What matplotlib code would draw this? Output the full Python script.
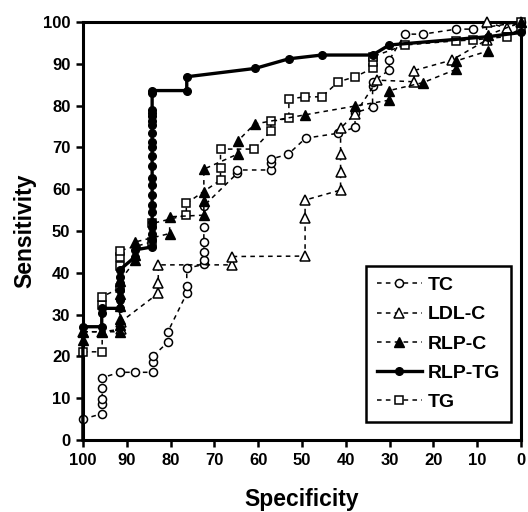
import matplotlib
matplotlib.use('Agg')
from matplotlib import pyplot as plt

plt.rcParams['font.family'] = ['Liberation Sans', 'DejaVu Sans']
plt.rcParams['font.weight'] = 'bold'

# specificity (x) and sensitivity (y)
tc_x = [100, 95.6, 95.6, 95.6, 95.6, 95.6, 91.6, 88, 84, 84, 84, 80.6, 80.6, 76.3, 76.3, 76.3,
        72.4, 72.4, 72.4, 72.4, 72.4, 72.4, 64.8, 64.8, 57.1, 57.1, 57.1, 53.1, 49.2, 41.7,
        37.9, 37.9, 33.9, 33.9, 33.9, 30.1, 30.1, 26.5, 22.4, 14.8, 10.9, 0]
tc_y = [5, 6.3, 8.6, 9.8, 12.4, 14.9, 16.2, 16.2, 16.2, 18.7, 20.1, 23.4, 25.9, 35.1, 36.8, 41.1,
        42, 43, 45, 47.4, 51, 56, 63.8, 64.6, 64.6, 66.2, 67.2, 68.4, 72.2, 73.4,
        74.8, 78.3, 79.6, 84.7, 85.7, 88.5, 90.9, 97.1, 97.1, 98.3, 98.3, 100]

ldl_x = [100, 95.6, 91.3, 91.3, 82.8, 82.8, 82.8, 65.9, 65.9, 49.3, 49.3, 49.3, 41.2, 41.2,
         41.2, 41.2, 37.9, 32.8, 24.4, 24.4, 15.8, 7.9, 7.9, 3.3, 0]
ldl_y = [25.9, 25.9, 26.5, 28.3, 35.1, 37.5, 41.9, 41.9, 43.9, 44, 53, 57.4, 59.8, 64,
         68.4, 74.6, 78, 86.1, 85.7, 88.4, 90.9, 95.7, 100, 98.5, 100]

rlpc_x = [100, 100, 95.6, 91.6, 91.6, 91.6, 91.6, 91.6, 91.6, 88, 88, 88, 80.2, 80.2, 72.4, 72.4,
          72.4, 72.4, 64.7, 64.7, 60.8, 49.3, 37.9, 30.1, 30.1, 22.4, 14.8, 14.8, 7.5, 7.5, 0]
rlpc_y = [23.9, 25.9, 25.9, 25.9, 27.5, 29, 32, 35, 38, 43, 44.3, 47.4, 49.4, 53.4, 53.8, 57.2,
          59.4, 64.8, 68.4, 71.5, 75.6, 77.8, 79.9, 81.3, 83.6, 85.5, 88.7, 90.7, 93.1, 96.9, 100]

rlptg_x = [100, 100, 95.7, 95.7, 95.7, 91.6, 91.6, 91.6, 91.6, 91.6, 91.6, 88, 88] + [84.2] * 22 + \
          [76.3, 76.3, 60.7, 53, 45.5, 33.9, 30.1, 7.5, 0]
rlptg_y = [0, 27.1, 27.1, 30.3, 31.5, 31.5, 33.5, 35.9, 37.5, 39.1, 40.7, 43.9, 45.5,
           46.2, 47.8, 49.4, 51.0, 52.2, 54.6, 56.2, 58.6, 61, 62.6, 65.6, 68.0, 70.2, 71.4,
           73.4, 75.4, 76.2, 77.4, 78.2, 78.9, 82.9, 83.6,
           83.6, 86.9, 88.9, 91.2, 92.1, 92.1, 94.5, 96.5, 97.5]

tg_x = [100, 95.6, 95.6, 95.6, 91.6, 91.6, 91.6, 91.6, 84.2, 84.2, 76.4, 76.4, 68.6, 68.6, 68.6,
        61, 57.1, 57.1, 53, 53, 49.3, 45.5, 41.7, 37.9, 33.9, 33.9, 33.9, 26.5, 14.8, 10.9,
        3.3, 0, 0]
tg_y = [21.1, 21.1, 32.3, 34.3, 36.3, 41.6, 43.7, 45.3, 47.4, 51.8, 53.8, 56.6, 62.2, 65.1, 69.6,
        69.6, 73.9, 76.2, 77, 81.6, 82.1, 82.1, 85.7, 86.9, 88.9, 90.5, 91.7, 94.5, 95.5, 95.7,
        96.5, 98.5, 100]

fig = plt.figure(figsize=(5.28, 5.12), dpi=100)
ax = fig.add_axes([0.157, 0.1406, 0.83, 0.8164])

dash = (0, (3, 2.8))
ax.plot(tc_x, tc_y, linestyle=dash, color='k', lw=1.1, marker='o', ms=5.8,
        mfc='white', mec='k', mew=1.1, label='TC', clip_on=False, zorder=3)
ax.plot(ldl_x, ldl_y, linestyle=dash, color='k', lw=1.1, marker='^', ms=6.8,
        mfc='white', mec='k', mew=1.1, label='LDL-C', clip_on=False, zorder=3)
ax.plot(rlpc_x, rlpc_y, linestyle=dash, color='k', lw=1.1, marker='^', ms=6.8,
        mfc='k', mec='k', label='RLP-C', clip_on=False, zorder=4)
ax.plot(rlptg_x, rlptg_y, linestyle='-', color='k', lw=2.4, marker='o', ms=5.5,
        mfc='k', mec='k', label='RLP-TG', clip_on=False, zorder=5,
        markevery=list(range(1, len(rlptg_x))))
ax.plot(tg_x, tg_y, linestyle=dash, color='k', lw=1.1, marker='s', ms=6.2,
        mfc='white', mec='k', mew=1.1, label='TG', clip_on=False, zorder=3)

ax.set_xlim(100, 0)
ax.set_ylim(0, 100)
ax.set_xticks(range(100, -1, -10))
ax.set_yticks(range(0, 101, 10))
ax.tick_params(direction='out', length=5, width=1.8, labelsize=12, pad=4)
for lab in ax.get_xticklabels() + ax.get_yticklabels():
    lab.set_fontweight('bold')
for s in ax.spines.values():
    s.set_linewidth(2.2)

ax.set_xlabel('Specificity', fontsize=16.5, fontweight='bold', labelpad=15)
ax.set_ylabel('Sensitivity', fontsize=16.5, fontweight='bold', labelpad=5)

leg = ax.legend(loc='lower right', bbox_to_anchor=(0.998, 0.02), fancybox=False,
                edgecolor='k', framealpha=1, handlelength=2.3, numpoints=1,
                labelspacing=0.6, borderpad=0.55, handletextpad=0.3,
                prop={'weight': 'bold', 'size': 14})
leg.get_frame().set_linewidth(1.8)

fig.savefig('out.png', dpi=100)
